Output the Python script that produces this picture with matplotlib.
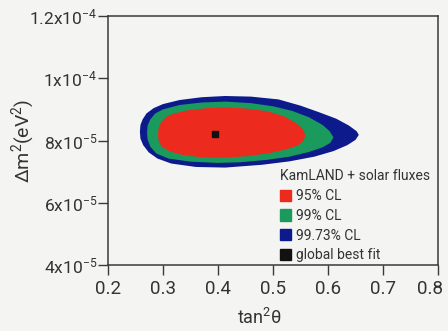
import matplotlib
matplotlib.use('Agg')
from matplotlib import pyplot as plt
from matplotlib.patches import Patch
from matplotlib.transforms import ScaledTranslation

# Contour outlines: tan^2(theta), delta m^2 in units of 1e-5 eV^2
blue_tan = [0.258, 0.259, 0.263, 0.270, 0.283, 0.300, 0.330, 0.370, 0.413, 0.460, 0.510, 0.550, 0.585,
            0.615, 0.638, 0.652, 0.656, 0.650, 0.635, 0.610, 0.575, 0.530, 0.480, 0.413, 0.360, 0.315,
            0.290, 0.274, 0.264, 0.259]
blue_dm = [8.28, 8.50, 8.68, 8.87, 9.04, 9.17, 9.30, 9.39, 9.43, 9.41, 9.32, 9.12, 8.90,
           8.70, 8.48, 8.30, 8.18, 8.02, 7.85, 7.66, 7.48, 7.33, 7.22, 7.13, 7.15, 7.26,
           7.42, 7.62, 7.85, 8.06]

green_tan = [0.271, 0.272, 0.277, 0.286, 0.300, 0.330, 0.370, 0.413, 0.460, 0.500, 0.535, 0.565, 0.590,
             0.603, 0.610, 0.604, 0.590, 0.565, 0.530, 0.490, 0.440, 0.400, 0.350, 0.310, 0.288,
             0.277, 0.272]
green_dm = [8.25, 8.48, 8.68, 8.87, 9.00, 9.14, 9.22, 9.25, 9.20, 9.10, 8.95, 8.75, 8.50,
            8.30, 8.10, 7.92, 7.78, 7.63, 7.48, 7.38, 7.30, 7.28, 7.32, 7.42, 7.58,
            7.80, 8.03]

red_tan = [0.291, 0.292, 0.297, 0.306, 0.320, 0.345, 0.380, 0.413, 0.450, 0.490, 0.520, 0.540, 0.553,
           0.559, 0.555, 0.545, 0.525, 0.495, 0.455, 0.413, 0.370, 0.335, 0.312, 0.298, 0.292]
red_dm = [8.18, 8.40, 8.60, 8.76, 8.87, 8.97, 9.04, 9.06, 9.03, 8.94, 8.78, 8.58, 8.40,
          8.18, 7.98, 7.84, 7.72, 7.60, 7.50, 7.45, 7.46, 7.54, 7.65, 7.80, 7.98]

best_tan = 0.395
best_dm = 8.20

xticks = [0.2, 0.3, 0.4, 0.5, 0.6, 0.7, 0.8]
xtick_labels = ['0.2', '0.3', '0.4', '0.5', '0.6', '0.7', '0.8']
yticks = [4, 6, 8, 10, 12]
ytick_labels = ['4x10$^{-5}$', '6x10$^{-5}$', '8x10$^{-5}$', '1x10$^{-4}$', '1.2x10$^{-4}$']

legend_title = 'KamLAND + solar fluxes'
legend_labels = ['95% CL', '99% CL', '99.73% CL', 'global best fit']

# Colours
RED = '#ec2a1d'
GREEN = '#1a9a5c'
BLUE = '#0c1a8c'
BLACK = '#111111'
BG = '#f4f4f2'
AXIS = '#3a3a3a'
TEXT = '#333333'

plt.rcParams['font.family'] = ['Roboto', 'DejaVu Sans']
plt.rcParams['mathtext.fontset'] = 'custom'
plt.rcParams['mathtext.rm'] = 'Roboto'
plt.rcParams['mathtext.it'] = 'Roboto'
plt.rcParams['mathtext.default'] = 'regular'

fig = plt.figure(figsize=(4.48, 3.31), dpi=100, facecolor=BG)
ax = fig.add_axes([108 / 448, 1 - 265 / 331, 330 / 448, 249 / 331], facecolor=BG)

# Confidence regions, outer first
ax.fill(blue_tan, blue_dm, color=BLUE, lw=0)
ax.fill(green_tan, green_dm, color=GREEN, lw=0)
ax.fill(red_tan, red_dm, color=RED, lw=0)
ax.plot([best_tan], [best_dm], marker='s', ms=5, color=BLACK, ls='none')

ax.set_xlim(0.2, 0.8)
ax.set_ylim(4, 12)
ax.set_xticks(xticks)
ax.set_xticklabels(xtick_labels, fontsize=13.5, color=TEXT)
ax.set_yticks(yticks)
ax.set_yticklabels(ytick_labels, fontsize=12.5, color=TEXT)
ax.tick_params(direction='out', length=7, width=1, color=AXIS, pad=1)
ax.tick_params(axis='x', pad=4)
for s in ax.spines.values():
    s.set_color(AXIS)
    s.set_linewidth(1.1)

# last x label is nudged left so it stays inside the picture
last = ax.get_xticklabels()[-1]
last.set_transform(last.get_transform() + ScaledTranslation(-8 / 100, 0, fig.dpi_scale_trans))

ax.set_ylabel('Δm$^2$(eV$^2$)', fontsize=14, color=TEXT)
ax.yaxis.set_label_coords(-0.215, 0.5)
ax.set_xlabel('tan$^2$θ', fontsize=13, color=TEXT)
ax.xaxis.set_label_coords(0.46, -0.172)

handles = [Patch(color=RED), Patch(color=GREEN), Patch(color=BLUE), Patch(color=BLACK)]
leg = ax.legend(handles, legend_labels, title=legend_title, loc='upper left',
                bbox_to_anchor=(0.52, 0.385), frameon=False, alignment='left',
                fontsize=10, title_fontsize=10, handlelength=0.85, handleheight=0.85,
                handletextpad=0.3, labelspacing=0.42, borderpad=0, borderaxespad=0)
for t in leg.get_texts():
    t.set_color(TEXT)
leg.get_title().set_color(TEXT)

plt.savefig('out.png', dpi=100, facecolor=BG)
